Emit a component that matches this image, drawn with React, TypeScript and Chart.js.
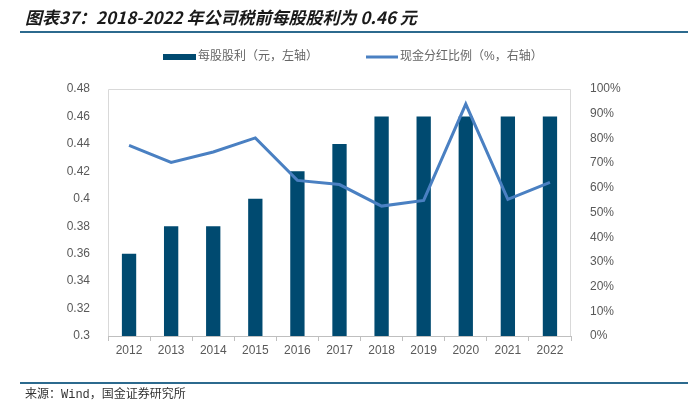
import React, { useEffect, useRef } from "react";
import { Chart, registerables } from "chart.js";

Chart.register(...registerables);

const years = ["2012", "2013", "2014", "2015", "2016", "2017", "2018", "2019", "2020", "2021", "2022"];
const dividendPerShare = [0.36, 0.38, 0.38, 0.4, 0.42, 0.44, 0.46, 0.46, 0.46, 0.46, 0.46];
const payoutRatio = [77.2, 70.3, 74.5, 80.2, 63.0, 61.3, 52.6, 54.9, 93.9, 55.3, 62.2];
const leftAxis = { min: 0.3, max: 0.48, step: 0.02 };
const rightAxis = { min: 0, max: 100, step: 10 };
const titleText = "图表37：2018-2022 年公司税前每股股利为 0.46 元";
const sourceText = "来源：Wind，国金证券研究所";
const barLabel = "每股股利（元，左轴）";
const lineLabel = "现金分红比例（%，右轴）";

const BAR_COLOR = "#004A70";
const LINE_COLOR = "#4A80C2";
const TICK_COLOR = "#595959";
const LEGEND_COLOR = "#666666";
const RULE_COLOR = "#2C6A8E";
const TICK_FONT = "'Liberation Sans', Arial, sans-serif";
const CJK_FONT = "'Liberation Sans', 'Noto Sans CJK SC', sans-serif";

const decorPlugin = {
  id: "decor",
  beforeDatasetsDraw(chart: any) {
    const { ctx, chartArea } = chart;
    ctx.save();
    ctx.strokeStyle = "#D9D9D9";
    ctx.lineWidth = 1;
    ctx.beginPath();
    ctx.moveTo(chartArea.left + 0.5, chartArea.bottom);
    ctx.lineTo(chartArea.left + 0.5, chartArea.top + 0.5);
    ctx.lineTo(chartArea.right - 0.5, chartArea.top + 0.5);
    ctx.lineTo(chartArea.right - 0.5, chartArea.bottom);
    ctx.stroke();
    ctx.restore();
  },
  afterDraw(chart: any) {
    const { ctx } = chart;
    ctx.save();
    ctx.fillStyle = "#1A1A1A";
    ctx.font = "italic bold 17px 'Noto Sans CJK SC', sans-serif";
    ctx.textBaseline = "middle";
    ctx.textAlign = "left";
    ctx.fillText(titleText, 25, 18);
    ctx.strokeStyle = RULE_COLOR;
    ctx.lineWidth = 2;
    ctx.beginPath();
    ctx.moveTo(20, 32);
    ctx.lineTo(688, 32);
    ctx.moveTo(20, 383);
    ctx.lineTo(688, 383);
    ctx.stroke();
    ctx.fillStyle = "#333333";
    ctx.font = "12px 'Liberation Mono', 'Noto Sans CJK SC', monospace";
    ctx.fillText(sourceText, 25, 395);
    ctx.fillStyle = BAR_COLOR;
    ctx.fillRect(163, 54, 33, 6);
    ctx.fillStyle = LEGEND_COLOR;
    ctx.font = "12px " + CJK_FONT;
    ctx.fillText(barLabel, 198, 57);
    ctx.strokeStyle = LINE_COLOR;
    ctx.lineWidth = 3;
    ctx.beginPath();
    ctx.moveTo(366, 57);
    ctx.lineTo(398, 57);
    ctx.stroke();
    ctx.fillText(lineLabel, 400, 57);
    ctx.restore();
  },
};

export default function App() {
  const ref = useRef<HTMLCanvasElement | null>(null);

  useEffect(() => {
    if (!ref.current) return;
    const chart = new Chart(ref.current, {
      type: "bar",
      data: {
        labels: years,
        datasets: [
          {
            type: "line",
            label: lineLabel,
            data: payoutRatio,
            yAxisID: "y1",
            borderColor: LINE_COLOR,
            backgroundColor: LINE_COLOR,
            borderWidth: 3,
            pointRadius: 0,
            tension: 0,
            order: 0,
          } as any,
          {
            type: "bar",
            label: barLabel,
            data: dividendPerShare,
            yAxisID: "y",
            backgroundColor: BAR_COLOR,
            barPercentage: 0.34,
            categoryPercentage: 1,
            order: 1,
          },
        ],
      },
      options: {
        responsive: false,
        animation: false,
        devicePixelRatio: 1,
        layout: { padding: { top: 89, bottom: 44, left: 0, right: 0 } },
        plugins: { legend: { display: false }, tooltip: { enabled: false }, title: { display: false } },
        scales: {
          x: {
            grid: {
              display: true,
              drawOnChartArea: false,
              drawTicks: true,
              tickLength: 5,
              color: "#BFBFBF",
              offset: true,
            },
            border: { display: true, color: "#BFBFBF" },
            ticks: { color: TICK_COLOR, font: { family: TICK_FONT, size: 12 }, padding: 2, maxRotation: 0 },
            afterFit: (s: any) => {
              s.height = 25;
            },
          },
          y: {
            position: "left",
            min: leftAxis.min,
            max: leftAxis.max,
            grid: { display: false },
            border: { display: false },
            ticks: {
              stepSize: leftAxis.step,
              color: TICK_COLOR,
              font: { family: TICK_FONT, size: 12 },
              padding: 10,
              callback: (v: any) => String(Number(Number(v).toFixed(2))),
            },
            afterFit: (s: any) => {
              s.width = 108;
            },
          },
          y1: {
            position: "right",
            min: rightAxis.min,
            max: rightAxis.max,
            grid: { display: false },
            border: { display: false },
            ticks: {
              stepSize: rightAxis.step,
              color: TICK_COLOR,
              font: { family: TICK_FONT, size: 12 },
              padding: 11,
              callback: (v: any) => `${v}%`,
            },
            afterFit: (s: any) => {
              s.width = 121;
            },
          },
        },
      },
      plugins: [decorPlugin],
    });
    return () => chart.destroy();
  }, []);

  return (
    <div style={{ position: "fixed", left: 0, top: 0, width: 692, height: 405, background: "#fff" }}>
      <canvas ref={ref} width={692} height={405} style={{ display: "block" }} />
    </div>
  );
}
